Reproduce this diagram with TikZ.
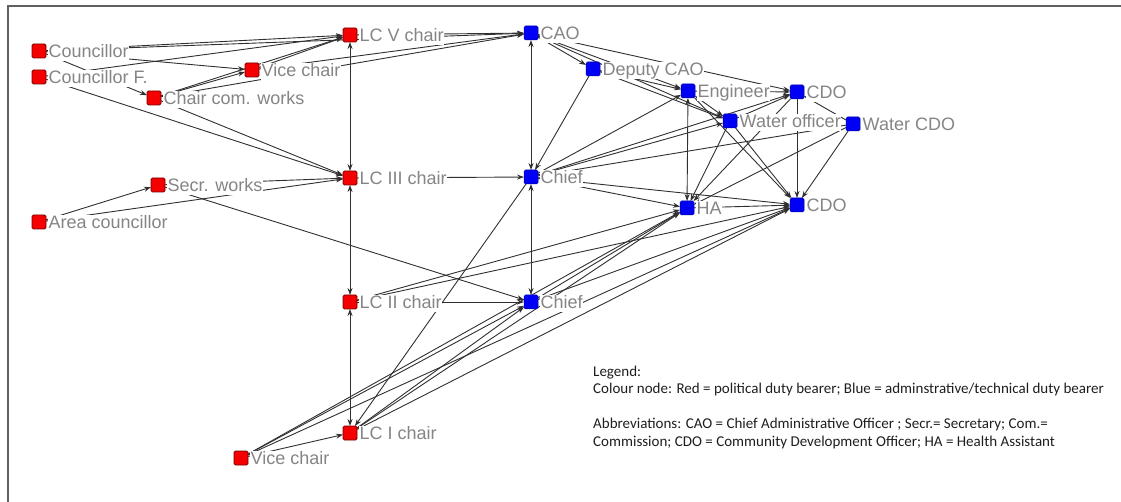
\documentclass[tikz,border=0pt]{standalone}
\usepackage{fontspec}
\newfontfamily\lblfont{Liberation Sans}
\newfontfamily\legfont{Carlito}
\usetikzlibrary{arrows.meta,calc}
\pgfdeclarelayer{edgelayer}
\pgfdeclarelayer{labellayer}
\pgfsetlayers{edgelayer,labellayer,main}
\definecolor{nred}{HTML}{F40000}
\definecolor{nredb}{HTML}{7A0000}
\definecolor{nblue}{HTML}{0000F4}
\definecolor{nblueb}{HTML}{0000A0}
\definecolor{lblgray}{HTML}{858585}
\definecolor{edgegray}{HTML}{303030}
\definecolor{framegray}{HTML}{606060}
\definecolor{legtext}{HTML}{1E1E1E}
\newcommand{\mylab}[2]{\node[lbl] (#1-l) at ($(#1.center)+(9,6.5)$) {#2};}
\begin{document}
\begin{tikzpicture}[x=1pt,y=-1pt,
  sq/.style={rectangle, minimum size=14pt, inner sep=0pt, outer sep=0pt, rounded corners=1.5pt},
  rsq/.style={sq, fill=nred, draw=nredb, line width=0.8pt},
  bsq/.style={sq, fill=nblue, draw=nblueb, line width=0.5pt},
  lbl/.style={font=\lblfont\fontsize{18}{20}\selectfont, text=lblgray, fill=white, inner sep=0.5pt, anchor=base west, text height=13pt, text depth=3.5pt},
  edge/.style={draw=edgegray, line width=0.9pt, -{Stealth[length=7pt,width=5pt]}},
  bedge/.style={draw=edgegray, line width=0.9pt, {Stealth[length=7pt,width=5pt]}-{Stealth[length=7pt,width=5pt]}},
  leg/.style={font=\legfont\fontsize{15}{17}\selectfont, text=legtext, anchor=base west, inner sep=0pt},
]
\useasboundingbox (0,0) rectangle (1121,502);
\draw[draw=framegray, line width=2pt] (8,502) -- (8,6) -- (1121,6);

% nodes (squares)
\node[rsq] (cou)  at (39,51) {};
\node[rsq] (couf) at (39,77) {};
\node[rsq] (vc1)  at (252,70) {};
\node[rsq] (ccw)  at (154,98) {};
\node[rsq] (lc5)  at (350,35) {};
\node[rsq] (secr) at (158,185) {};
\node[rsq] (area) at (39,222) {};
\node[rsq] (lc3)  at (350,178) {};
\node[rsq] (lc2)  at (350,302) {};
\node[rsq] (lc1)  at (350,433) {};
\node[rsq] (vc2)  at (241,458) {};
\node[bsq] (cao)  at (531,33) {};
\node[bsq] (dcao) at (593,69) {};
\node[bsq] (eng)  at (688,91) {};
\node[bsq] (cdo1) at (797,92) {};
\node[bsq] (wo)   at (730,121) {};
\node[bsq] (wcdo) at (853,124) {};
\node[bsq] (ch1)  at (531,177) {};
\node[bsq] (ha)   at (687,208) {};
\node[bsq] (cdo2) at (797,205) {};
\node[bsq] (ch2)  at (531,302) {};

% labels
\begin{pgfonlayer}{labellayer}
\mylab{cou}{Councillor}
\mylab{couf}{Councillor F.}
\mylab{vc1}{Vice chair}
\mylab{ccw}{Chair com. works}
\mylab{lc5}{LC V chair}
\mylab{secr}{Secr. works}
\mylab{area}{Area councillor}
\mylab{lc3}{LC III chair}
\mylab{lc2}{LC II chair}
\mylab{lc1}{LC I chair}
\mylab{vc2}{Vice chair}
\mylab{cao}{CAO}
\mylab{dcao}{Deputy CAO}
\mylab{eng}{Engineer}
\mylab{cdo1}{CDO}
\mylab{wo}{Water officer}
\mylab{wcdo}{Water CDO}
\mylab{ch1}{Chief}
\mylab{ha}{HA}
\mylab{cdo2}{CDO}
\mylab{ch2}{Chief}
\end{pgfonlayer}

% edges
\begin{pgfonlayer}{edgelayer}
\draw[edge] (cou) -- (lc5);
\draw[edge] (cou) -- (vc1);
\draw[edge] (cou) -- (cao);
\draw[edge] (cou) -- (ccw);
\draw[edge] (couf) -- (lc5);
\draw[edge] (couf) -- (lc3);
\draw[edge] (vc1) -- (lc5);
\draw[edge] (vc1) -- (cao);
\draw[edge] (ccw) -- (vc1);
\draw[edge] (ccw) -- (lc5);
\draw[edge] (ccw) -- (cao);
\draw[edge] (ccw) -- (lc3);
\draw[edge] (secr) -- (lc3);
\draw[edge] (area) -- (secr);
\draw[edge] (area) -- (lc3);
\draw[edge] (secr) -- (ch2);
\draw[bedge] (lc5) -- (lc3);
\draw[bedge] (lc3) -- (lc2);
\draw[bedge] (lc2) -- (lc1);
\draw[edge] (lc5) -- (cao);
\draw[edge] (lc3) -- (ch1);
\draw[edge] (lc2) -- (ch2);
\draw[edge] (ch1) -- (lc1);
\draw[edge] (vc2) -- (lc1);
\draw[edge] (cao) -- (dcao);
\draw[edge] (cao) -- (eng);
\draw[edge] (cao) -- (wo);
\draw[edge] (cao) -- (cdo1);
\draw[bedge] (cao) -- (ch1);
\draw[edge] (dcao) -- (eng);
\draw[edge] (dcao) -- (wo);
\draw[edge] (dcao) -- (ch1);
\draw[edge] (eng) -- (cdo1);
\draw[bedge] (eng) -- (wo);
\draw[bedge] (eng) -- (ha);
\draw[edge] (eng) -- (cdo2);
\draw[edge] (wo) -- (cdo1);
\draw[edge] (wo) -- (ha);
\draw[edge] (wo) -- (cdo2);
\draw[edge] (cdo1) -- (cdo2);
\draw[edge] (cdo1) -- (ha);
\draw[edge] (wcdo) -- (cdo1);
\draw[edge] (wcdo) -- (ha);
\draw[edge] (wcdo) -- (cdo2);
\draw[edge] (wcdo) -- (ch1);
\draw[edge] (ch1) -- (eng);
\draw[edge] (ch1) -- (wo);
\draw[edge] (ch1) -- (cdo1);
\draw[edge] (ch1) -- (ha);
\draw[edge] (ch1) -- (cdo2);
\draw[bedge] (ch1) -- (ch2);
\draw[edge] (ha) -- (cdo2);
\draw[edge] (ch2) -- (ha);
\draw[edge] (ch2) -- (cdo2);
\draw[edge] (lc2) -- (ha);
\draw[edge] (lc2) -- (cdo2);
\draw[edge] (lc1) -- (ch2);
\draw[edge] (lc1) -- (ha);
\draw[edge] (lc1) -- (cdo2);
\draw[edge] (vc2) -- (ch2);
\draw[edge] (vc2) -- (ha);
\draw[edge] (vc2) -- (cdo2);
\end{pgfonlayer}

% legend
\node[leg] (lg1) at (593,376.5) {Legend:};
\node[leg] (lg2) at (593,393.5) {Colour node: Red = political duty bearer; Blue = adminstrative/technical duty bearer};
\node[leg] (lg3) at (593,428.5) {Abbreviations: CAO = Chief Administrative Officer ; Secr.= Secretary; Com.=};
\node[leg] (lg4) at (593,446) {Commission; CDO = Community Development Officer; HA = Health Assistant};
\end{tikzpicture}
\end{document}
